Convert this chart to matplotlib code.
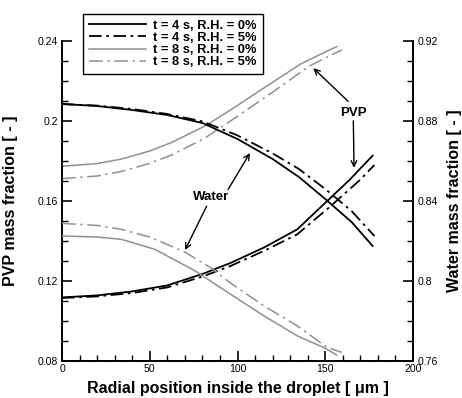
import matplotlib
matplotlib.use("Agg")
import matplotlib.pyplot as plt
from matplotlib.ticker import MultipleLocator, FixedLocator, FuncFormatter

plt.rcParams['font.family'] = ['Liberation Sans', 'DejaVu Sans']

# ---------------- data ----------------
# t = 4 s, R.H. = 0%
r_pvp_4_0 = [0, 20, 40, 60, 80, 96, 115, 134, 151, 164, 177]
pvp_4_0 = [0.1118, 0.1128, 0.1148, 0.1178, 0.1235, 0.1290, 0.1367, 0.1458, 0.1599, 0.1707, 0.1827]
r_wat_4_0 = [0, 20, 40, 60, 80, 100, 120, 135, 150, 165, 177]
wat_4_0 = [0.8885, 0.8875, 0.8855, 0.8830, 0.8790, 0.8710, 0.8610, 0.8520, 0.8410, 0.8295, 0.8175]

# t = 4 s, R.H. = 5%
r_pvp_4_5 = [0, 20, 40, 60, 80, 96, 115, 134, 153, 170, 178]
pvp_4_5 = [0.1115, 0.1123, 0.1140, 0.1168, 0.1222, 0.1275, 0.1350, 0.1433, 0.1574, 0.1707, 0.1780]
r_wat_4_5 = [0, 20, 40, 60, 80, 100, 120, 135, 150, 165, 178]
wat_4_5 = [0.8885, 0.8877, 0.8860, 0.8835, 0.8798, 0.8728, 0.8638, 0.8560, 0.8460, 0.8350, 0.8225]

# t = 8 s, R.H. = 0%
r_pvp_8_0 = [0, 20, 34, 50, 62.5, 81.5, 96, 115, 136, 150, 156.5]
pvp_8_0 = [0.1774, 0.1787, 0.1810, 0.1850, 0.1893, 0.1975, 0.2055, 0.2165, 0.2285, 0.2345, 0.2372]
r_wat_8_0 = [0, 20, 34, 53, 76, 96, 115, 134, 149, 156.5]
wat_8_0 = [0.8225, 0.8220, 0.8208, 0.8158, 0.8050, 0.7934, 0.7826, 0.7726, 0.7668, 0.7630]

# t = 8 s, R.H. = 5%
r_pvp_8_5 = [0, 20, 34, 50, 62.5, 81.5, 96, 118.5, 141, 153, 159.4]
pvp_8_5 = [0.1712, 0.1725, 0.1748, 0.1788, 0.1830, 0.1915, 0.2000, 0.2135, 0.2275, 0.2328, 0.2355]
r_wat_8_5 = [0, 20, 34, 50, 70, 85, 96, 115, 134, 151, 159.4]
wat_8_5 = [0.8288, 0.8278, 0.8258, 0.8220, 0.8145, 0.8065, 0.7990, 0.7876, 0.7776, 0.7668, 0.7643]

series_labels = ["t = 4 s, R.H. = 0%", "t = 4 s, R.H. = 5%",
                 "t = 8 s, R.H. = 0%", "t = 8 s, R.H. = 5%"]

x_ticks = [0, 50, 100, 150, 200]
left_ticks = [0.08, 0.12, 0.16, 0.2, 0.24]
right_ticks = [0.76, 0.8, 0.84, 0.88, 0.92]

# ---------------- figure ----------------
fig = plt.figure(figsize=(4.62, 3.98), dpi=100)
ax = fig.add_axes([62/462, 37/398, 351/462, 320/398])
ax2 = ax.twinx()

black = '#000000'
gray = '#909090'
dd_black = (0, (7, 2.5, 1.5, 2.5))
dd_gray = (0, (9, 3, 1.5, 3))

h1, = ax.plot(r_pvp_4_0, pvp_4_0, color=black, lw=1.3, ls='-')
h2, = ax.plot(r_pvp_4_5, pvp_4_5, color=black, lw=1.3, ls=dd_black)
h3, = ax.plot(r_pvp_8_0, pvp_8_0, color=gray, lw=1.1, ls='-')
h4, = ax.plot(r_pvp_8_5, pvp_8_5, color=gray, lw=1.1, ls=dd_gray)

ax2.plot(r_wat_4_0, wat_4_0, color=black, lw=1.3, ls='-')
ax2.plot(r_wat_4_5, wat_4_5, color=black, lw=1.3, ls=dd_black)
ax2.plot(r_wat_8_0, wat_8_0, color=gray, lw=1.1, ls='-')
ax2.plot(r_wat_8_5, wat_8_5, color=gray, lw=1.1, ls=dd_gray)

ax.set_xlim(0, 200)
ax.set_ylim(0.08, 0.24)
ax2.set_ylim(0.76, 0.92)

fmt = FuncFormatter(lambda v, p: ('%g' % round(v, 4)))
ax.xaxis.set_major_locator(FixedLocator(x_ticks))
ax.xaxis.set_minor_locator(MultipleLocator(10))
ax.yaxis.set_major_locator(FixedLocator(left_ticks))
ax.yaxis.set_minor_locator(MultipleLocator(0.01))
ax.yaxis.set_major_formatter(fmt)
ax2.yaxis.set_major_locator(FixedLocator(right_ticks))
ax2.yaxis.set_minor_locator(MultipleLocator(0.01))
ax2.yaxis.set_major_formatter(fmt)

for a in (ax, ax2):
    a.spines['top'].set_visible(False)
    for s in ('left', 'right', 'bottom'):
        a.spines[s].set_linewidth(1.4)
    a.tick_params(which='major', direction='in', length=7, width=1.2, labelsize=7.6, pad=3)
    a.tick_params(which='minor', direction='in', length=4, width=1.0)
ax.tick_params(axis='x', which='both', top=False)
ax.tick_params(axis='x', which='major', pad=2)
ax.tick_params(axis='y', which='both', right=False)
ax2.spines['left'].set_visible(False)
ax2.spines['bottom'].set_visible(False)

ax.set_xlabel("Radial position inside the droplet [ \u03bcm ]", fontsize=11.5, fontweight='bold')
ax.set_ylabel("PVP mass fraction [ - ]", fontsize=11.5, fontweight='bold')
ax2.set_ylabel("Water mass fraction [ - ]", fontsize=11.5, fontweight='bold')
ax.xaxis.set_label_coords(0.5, -0.062)
ax.yaxis.set_label_coords(-0.125, 0.5)
ax2.yaxis.set_label_coords(1.097, 0.5)

leg = ax.legend([h1, h2, h3, h4], series_labels, loc='upper left',
                bbox_to_anchor=(0.06, 1.084), borderaxespad=0,
                prop={'weight': 'bold', 'size': 9.3}, handlelength=4.4,
                handletextpad=0.6, labelspacing=0.0, borderpad=0.45,
                fancybox=False, framealpha=1, edgecolor='black')
leg.get_frame().set_linewidth(1.0)
leg.set_zorder(10)

# annotations
arrow = dict(arrowstyle='->', color='black', lw=1.0, shrinkA=0, shrinkB=0,
             mutation_scale=10)
ax.text(165.8, 0.2041, "PVP", ha='center', va='center', fontsize=9.5, fontweight='bold')
ax.annotate('', xy=(143.2, 0.2264), xytext=(163.1, 0.2098), arrowprops=arrow)
ax.annotate('', xy=(166.4, 0.1766), xytext=(166.0, 0.2001), arrowprops=arrow)
ax.text(84.9, 0.1618, "Water", ha='center', va='center', fontsize=9.5, fontweight='bold')
ax.annotate('', xy=(107.1, 0.1840), xytext=(94.6, 0.1657), arrowprops=arrow)
ax.annotate('', xy=(70.1, 0.1355), xytext=(82.4, 0.1574), arrowprops=arrow)

fig.savefig("out.png", dpi=100)
